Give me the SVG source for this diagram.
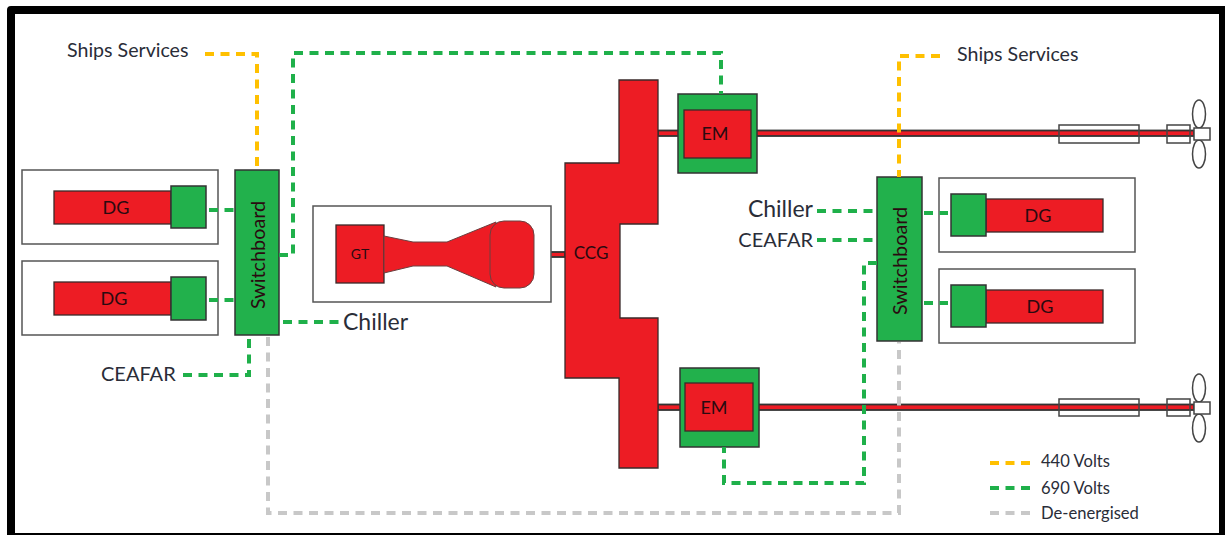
<svg xmlns="http://www.w3.org/2000/svg" width="1225" height="535" viewBox="0 0 1225 535">
<style>
text{font-family:"Lato","Open Sans",sans-serif;fill:#2a2d38}
.lbl{font-size:20px}
.chl{font-size:23px}
.ss{font-size:19.6px}
.nm{fill:#2a0a10;text-anchor:middle}
.leg{font-size:16.6px}
.box{fill:#fff;stroke:#555;stroke-width:1.5}
.red{fill:#ed1c24;stroke:#3a2a2a;stroke-width:1.3}
.thin{fill:#ed1c24;stroke:#6a4040;stroke-width:1}
.grn{fill:#22b14c;stroke:#333;stroke-width:1.5}
.c{fill:none;stroke-width:4;stroke-dasharray:9 6.5}
.y{stroke:#ffc000}.g{stroke:#1fb04a}.d{stroke:#c8c8c8}
.shaft{fill:#ed1c24;stroke:#333;stroke-width:1.8}
.open{fill:none;stroke:#444;stroke-width:1.5}
.hub{fill:#fff;stroke:#444;stroke-width:1.5}
</style>
<rect width="1225" height="535" fill="#fff"/>
<path id="frame" fill="#000" fill-rule="evenodd" d="M11 6H1225V535H7V10Q7 6 11 6ZM15 14V533H1219V14Z"/>

<g id="shafts">
<rect class="shaft" x="534" y="252" width="31" height="5"/>
<rect class="shaft" x="658" y="130.500" width="536" height="5.500"/>
<rect class="shaft" x="658" y="404.500" width="536" height="5.500"/>
</g>

<g id="dg-left-1">
<rect class="box" x="22" y="170" width="196" height="74"/>
<rect class="red" x="54" y="191" width="117" height="33"/>
<rect class="grn" x="171" y="186" width="35" height="42"/>
<text class="nm" x="116" y="214" font-size="18">DG</text>
</g>
<g id="dg-left-2">
<rect class="box" x="22" y="261" width="196" height="74"/>
<rect class="red" x="54" y="282" width="117" height="33"/>
<rect class="grn" x="171" y="277" width="35" height="43"/>
<text class="nm" x="114" y="305" font-size="18">DG</text>
</g>
<g id="switchboard-left">
<rect class="grn" x="235" y="170" width="44" height="165"/>
<text class="nm" transform="translate(265,255) rotate(-90)" font-size="19.800">Switchboard</text>
</g>
<g id="gt">
<rect class="box" x="313" y="206" width="238" height="96"/>
<rect class="red" x="336" y="225" width="48" height="58"/>
<path class="thin" d="M384 236L413 242H447L496 222V287L447 266H413L384 273Z"/>
<rect class="thin" x="490" y="221" width="44" height="67" rx="14"/>
<text class="nm" x="360" y="259" font-size="14">GT</text>
</g>
<g id="ccg">
<path class="red" d="M619 80H658V224H620V318H658V468H619V378H565V163H619Z"/>
<text class="nm" x="591" y="259" font-size="17">CCG</text>
</g>
<g id="em-top">
<rect class="grn" x="678" y="94" width="79" height="79" stroke-width="2.2"/>
<rect class="red" x="684" y="110" width="67" height="48"/>
<text class="nm" x="715" y="140" font-size="18">EM</text>
</g>
<g id="em-bottom">
<rect class="grn" x="680" y="368" width="79" height="79" stroke-width="2.2"/>
<rect class="red" x="685" y="383" width="68" height="48"/>
<text class="nm" x="714" y="414" font-size="18">EM</text>
</g>
<g id="switchboard-right">
<rect class="grn" x="877" y="177" width="45" height="164"/>
<text class="nm" transform="translate(907,261) rotate(-90)" font-size="19.800">Switchboard</text>
</g>
<g id="dg-right-1">
<rect class="box" x="939" y="178" width="196" height="74"/>
<rect class="red" x="986" y="199" width="117" height="33"/>
<rect class="grn" x="951" y="194" width="35" height="42"/>
<text class="nm" x="1038" y="222" font-size="18">DG</text>
</g>
<g id="dg-right-2">
<rect class="box" x="939" y="269" width="196" height="74"/>
<rect class="red" x="986" y="290" width="117" height="33"/>
<rect class="grn" x="951" y="285" width="35" height="42"/>
<text class="nm" x="1040" y="313" font-size="18">DG</text>
</g>
<g id="propulsor-top">
<rect class="open" x="1059" y="125" width="80" height="18"/>
<rect class="open" x="1167" y="125" width="23" height="18"/>
<ellipse class="open" cx="1199" cy="114" rx="6.500" ry="14"/>
<ellipse class="open" cx="1199" cy="154" rx="6.500" ry="14"/>
<rect class="hub" x="1194" y="128" width="16" height="12"/>
</g>
<g id="propulsor-bottom">
<rect class="open" x="1059" y="399" width="80" height="17"/>
<rect class="open" x="1167" y="399" width="23" height="17"/>
<ellipse class="open" cx="1199" cy="388" rx="6.500" ry="14"/>
<ellipse class="open" cx="1199" cy="428" rx="6.500" ry="14"/>
<rect class="hub" x="1194" y="402" width="16" height="12"/>
</g>

<g id="connectors">
<path class="c y" d="M205 54H257V170"/>
<path class="c y" d="M940 56H899V177"/>
<path class="c g" d="M279 255H293V53H721V94"/>
<path class="c g" d="M209 210H235"/>
<path class="c g" d="M209 300H235"/>
<path class="c g" d="M283 322H340"/>
<path class="c g" d="M183 375H249V338"/>
<path class="c g" d="M817 211H877"/>
<path class="c g" d="M817 240H877"/>
<path class="c g" d="M924 213H948"/>
<path class="c g" d="M924 303H948"/>
<path class="c g" d="M877 263H864V483H724V447"/>
<path class="c d" d="M268 337V513H899V342"/>
<path class="c y" d="M990 463H1031"/>
<path class="c g" d="M990 488H1031"/>
<path class="c d" d="M990 513H1031"/>
</g>

<g id="labels">
<text class="ss" x="67" y="57">Ships Services</text>
<text class="ss" x="957" y="61">Ships Services</text>
<text class="chl" x="343" y="330">Chiller</text>
<text class="lbl" x="101" y="381">CEAFAR</text>
<text class="chl" x="813" y="217" text-anchor="end">Chiller</text>
<text class="lbl" x="813" y="247" text-anchor="end">CEAFAR</text>
<text class="leg" x="1041" y="467">440 Volts</text>
<text class="leg" x="1041" y="494">690 Volts</text>
<text class="leg" x="1041" y="519">De-energised</text>
</g>
</svg>
